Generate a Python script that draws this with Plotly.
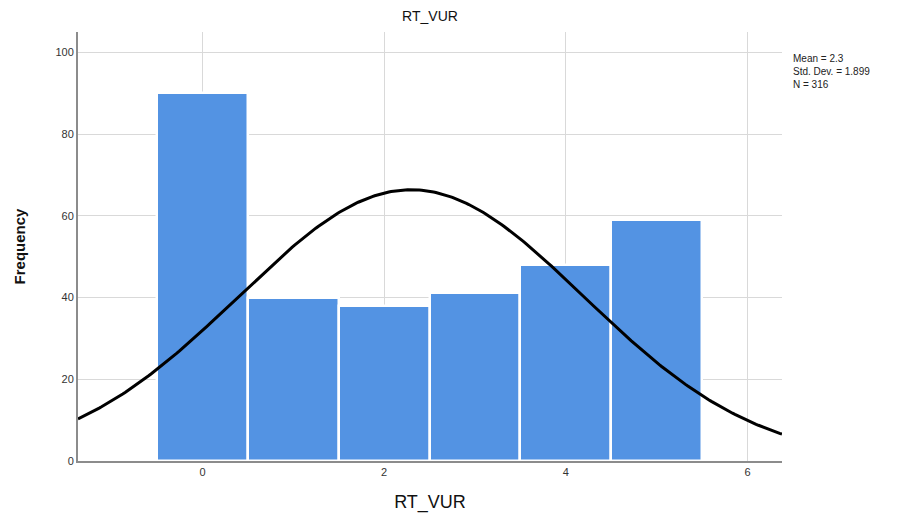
import numpy as np
import plotly.graph_objects as go

# Data
categories = [0, 1, 2, 3, 4, 5]
frequencies = [90, 40, 38, 41, 48, 59]
mean_val = 2.3
std_dev = 1.899
n_total = 316
x_ticks = [0, 2, 4, 6]
y_ticks = [0, 20, 40, 60, 80, 100]

x_min, x_max = -1.37, 6.38

# Normal curve scaled to counts (bin width 1)
xs = np.linspace(x_min, x_max, 300)
exact_mean = sum(c * f for c, f in zip(categories, frequencies)) / n_total
ys = n_total * 1.0 / (std_dev * np.sqrt(2 * np.pi)) * np.exp(-0.5 * ((xs - exact_mean) / std_dev) ** 2)

fig = go.Figure()
fig.add_trace(go.Bar(
    x=categories, y=frequencies, width=1,
    marker=dict(color="#5393E3", line=dict(color="white", width=2.5)),
    hoverinfo="x+y",
))
fig.add_trace(go.Scatter(
    x=xs, y=ys, mode="lines",
    line=dict(color="black", width=3),
    hoverinfo="skip",
))

font_family = "Liberation Sans, Arial, sans-serif"
# page body has an 8px margin, so the figure is offset by 8px; margins compensate
fig.update_layout(
    width=904, height=520,
    margin=dict(l=70, r=130, t=24, b=67, autoexpand=False),
    paper_bgcolor="white", plot_bgcolor="white",
    showlegend=False, bargap=0,
    font=dict(family=font_family, color="#222"),
    title=dict(text="RT_VUR", x=(70 + 352) / 904, xanchor="center",
               y=1 - 8 / 520, yanchor="middle",
               font=dict(size=14, color="#111")),
    xaxis=dict(
        range=[x_min, x_max], tickvals=x_ticks, ticktext=[str(t) for t in x_ticks],
        showgrid=True, gridcolor="#D9D9D9", gridwidth=1,
        showline=True, linecolor="#8C8C8C", linewidth=2,
        zeroline=False, ticks="", ticklen=0, automargin=False,
        tickfont=dict(size=11, color="#333"),
        title=dict(text="RT_VUR", font=dict(size=18, color="#111"), standoff=18),
    ),
    yaxis=dict(
        range=[0, 105], tickvals=y_ticks,
        showgrid=True, gridcolor="#D9D9D9", gridwidth=1,
        showline=True, linecolor="#8C8C8C", linewidth=2,
        zeroline=False, ticks="", ticklen=0, automargin=False,
        tickfont=dict(size=11, color="#333"),
        title=dict(text="<b>Frequency</b>", font=dict(size=15, color="#111"), standoff=26),
    ),
    annotations=[dict(
        xref="paper", yref="paper", x=1.013, y=0.956, xanchor="left", yanchor="top",
        text=f"Mean = {mean_val}<br>Std. Dev. = {std_dev}<br>N = {n_total}",
        showarrow=False, align="left",
        font=dict(size=10, color="#222", family=font_family),
    )],
)

fig.write_html("out.html")
